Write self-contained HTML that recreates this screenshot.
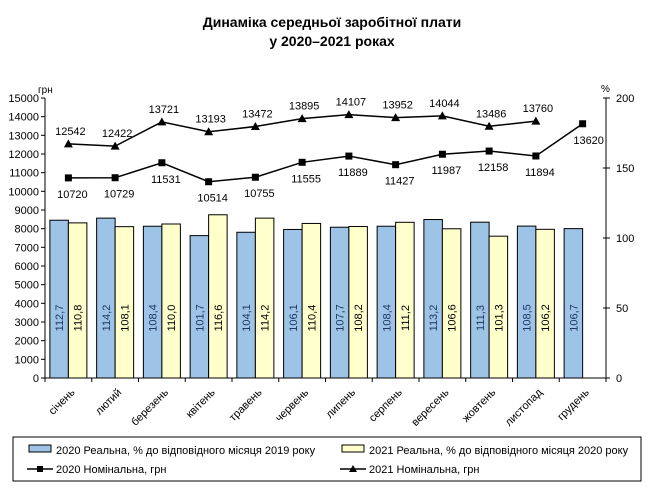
<!DOCTYPE html>
<html><head><meta charset="utf-8">
<style>
body{margin:0;background:#fff;}
svg{display:block;font-family:"Liberation Sans","DejaVu Sans",sans-serif;}
</style></head>
<body>
<svg id="c" width="671" height="489" viewBox="0 0 671 489" xmlns="http://www.w3.org/2000/svg">
<text x="332" y="27" text-anchor="middle" font-size="14" font-weight="bold">Динаміка середньої заробітної плати</text>
<text x="332" y="46" text-anchor="middle" font-size="14" font-weight="bold">у 2020–2021 роках</text>
<text x="38" y="93" font-size="10">грн</text>
<text x="601" y="92" font-size="10">%</text>
<rect x="13" y="437" width="628" height="44" fill="none" stroke="#000" stroke-width="1"/>
<rect x="29" y="445" width="22" height="7" fill="#9dc3e6" stroke="#000"/>
<text x="56" y="454" font-size="11">2020 Реальна, % до відповідного місяця 2019 року</text>
<rect x="342" y="445" width="22" height="7" fill="#ffffcc" stroke="#000"/>
<text x="369" y="454" font-size="11">2021 Реальна, % до відповідного місяця 2020 року</text>
<line x1="27" y1="469" x2="53" y2="469" stroke="#000" stroke-width="1.5"/>
<rect x="37" y="466" width="6" height="6"/>
<text x="56" y="473" font-size="11">2020 Номінальна, грн</text>
<line x1="340" y1="469" x2="366" y2="469" stroke="#000" stroke-width="1.5"/>
<polygon points="353,465 357,472 349,472"/>
<text x="369" y="473" font-size="11">2021 Номінальна, грн</text>
</svg>
<script>
var s=document.getElementById('c'),NS="http://www.w3.org/2000/svg";
function el(t,a,txt){var e=document.createElementNS(NS,t);for(var k in a)e.setAttribute(k,a[k]);if(txt!=null)e.textContent=txt;s.appendChild(e);return e;}
var L=45,R=606,T=98,B=378,W=(R-L)/12;
var b1=[112.7,114.2,108.4,101.7,104.1,106.1,107.7,108.4,113.2,111.3,108.5,106.7];
var b2=[110.8,108.1,110.0,116.6,114.2,110.4,108.2,111.2,106.6,101.3,106.2];
var n1=[10720,10729,11531,10514,10755,11555,11889,11427,11987,12158,11894,13620];
var n2=[12542,12422,13721,13193,13472,13895,14107,13952,14044,13486,13760];
var m=["січень","лютий","березень","квітень","травень","червень","липень","серпень","вересень","жовтень","листопад","грудень"];
function yp(v){return B-v/200*(B-T);}
function yn(v){return B-v/15000*(B-T);}
for(var i=0;i<12;i++){
 var c=L+W*(i+.5);
 var y=yp(b1[i]);el('rect',{x:c-18.5,y:y,width:18.5,height:B-y,fill:'#9dc3e6',stroke:'#000','stroke-width':1});
 el('text',{x:0,y:0,'font-size':11,'text-anchor':'middle',fill:'#1f3864',transform:'translate('+(c-9.25+4)+',318) rotate(-90)'},b1[i].toFixed(1).replace('.',','));
 if(i<11){y=yp(b2[i]);el('rect',{x:c,y:y,width:18.5,height:B-y,fill:'#ffffcc',stroke:'#000','stroke-width':1});
 el('text',{x:0,y:0,'font-size':11,'text-anchor':'middle',transform:'translate('+(c+9.25+4)+',318) rotate(-90)'},b2[i].toFixed(1).replace('.',','));}
 el('text',{x:0,y:0,'font-size':11,'text-anchor':'end',transform:'translate('+(c+7)+',393) rotate(-45)'},m[i]);
}
el('line',{x1:L,y1:T,x2:L,y2:B,stroke:'#000'});
el('line',{x1:R,y1:T,x2:R,y2:B,stroke:'#000'});
el('line',{x1:L,y1:B,x2:R,y2:B,stroke:'#000'});
for(var v=0;v<=15000;v+=1000){var y=yn(v);el('line',{x1:L-4,y1:y,x2:L,y2:y,stroke:'#000'});el('text',{x:L-6,y:y+4,'font-size':11,'text-anchor':'end'},v);}
for(var v=0;v<=200;v+=50){var y=yp(v);el('line',{x1:R-3,y1:y,x2:R+4,y2:y,stroke:'#000'});el('text',{x:R+10,y:y+4,'font-size':11},v);}
for(var i=0;i<=12;i++){var x=L+W*i;el('line',{x1:x,y1:B,x2:x,y2:B+4,stroke:'#000'});}
var p1=n1.map(function(v,i){return (L+W*(i+.5))+','+yn(v);}).join(' ');
var p2=n2.map(function(v,i){return (L+W*(i+.5))+','+yn(v);}).join(' ');
el('polyline',{points:p1,fill:'none',stroke:'#000','stroke-width':1.5});
el('polyline',{points:p2,fill:'none',stroke:'#000','stroke-width':1.5});
n1.forEach(function(v,i){var c=L+W*(i+.5),y=yn(v);el('rect',{x:c-3.5,y:y-3.5,width:7,height:7});
 el('text',{x:c+(i==11?6:4),y:y+20,'font-size':11,'text-anchor':'middle'},v);});
n2.forEach(function(v,i){var c=L+W*(i+.5),y=yn(v);el('polygon',{points:c+','+(y-4.5)+' '+(c+4.5)+','+(y+3.5)+' '+(c-4.5)+','+(y+3.5)});
 el('text',{x:c+2,y:y-9,'font-size':11,'text-anchor':'middle'},v);});
</script>
</body></html>
